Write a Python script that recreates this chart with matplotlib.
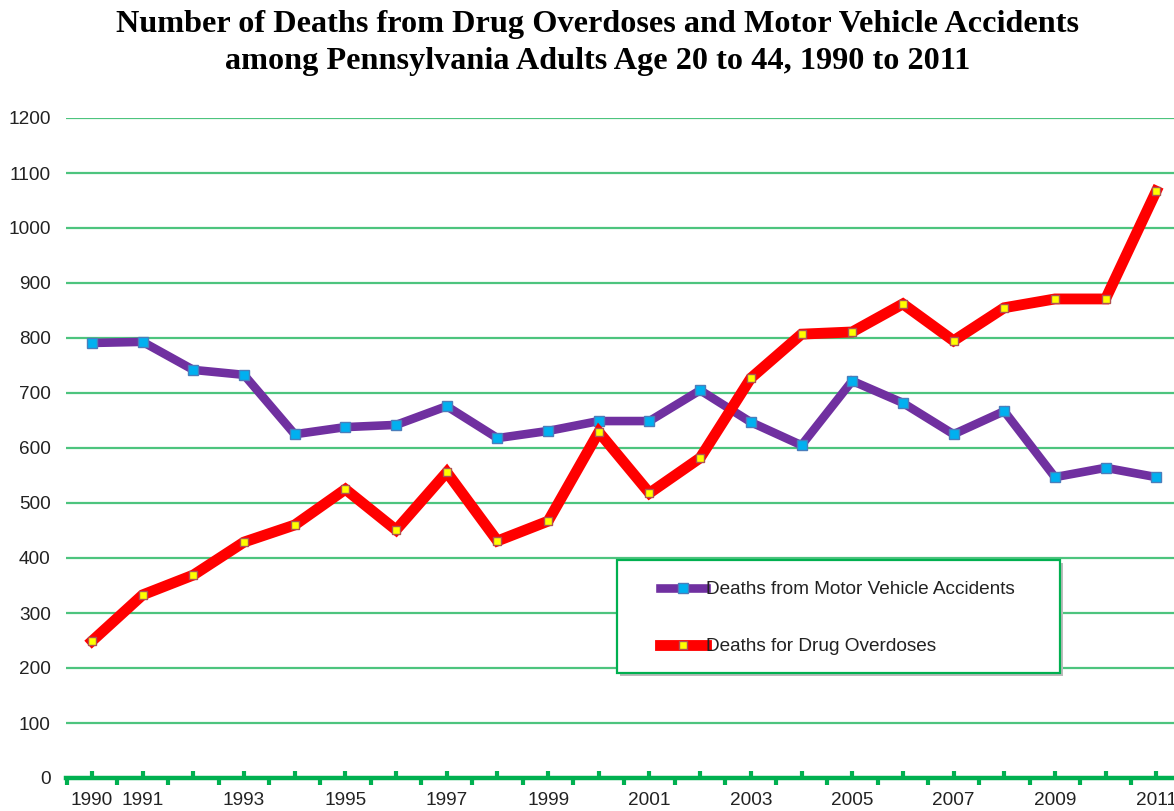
import matplotlib
matplotlib.use("Agg")
import matplotlib.pyplot as plt
from matplotlib.lines import Line2D
from matplotlib.patches import Rectangle

years = list(range(1990, 2012))
motor_vehicle = [791, 793, 742, 733, 625, 638, 642, 676, 618, 631, 649,
                 649, 705, 647, 605, 722, 682, 625, 667, 547, 564, 547]
drug_overdose = [249, 333, 369, 429, 460, 525, 451, 556, 431, 467, 629,
                 518, 582, 727, 807, 811, 862, 795, 855, 871, 871, 1067]
x_labels = ["1990", "1991", "", "1993", "", "1995", "", "1997", "", "1999", "",
            "2001", "", "2003", "", "2005", "", "2007", "", "2009", "", "2011"]
y_ticks = list(range(0, 1300, 100))
title = ("Number of Deaths from Drug Overdoses and Motor Vehicle Accidents\n"
         "among Pennsylvania Adults Age 20 to 44, 1990 to 2011")
label_mv = "Deaths from Motor Vehicle Accidents"
label_do = "Deaths for Drug Overdoses"

W, H = 1174, 811
fig = plt.figure(figsize=(W / 100, H / 100), dpi=100)
fig.patch.set_facecolor("white")
ax = fig.add_axes([66 / W, 1 - 778 / H, (W - 66) / W, (778 - 118) / H])

ax.set_xlim(1989.487, 2011.35)
ax.set_ylim(0, 1200)

green_grid = "#4DC47E"
green_axis = "#00B050"
ax.set_yticks(y_ticks)
ax.set_yticklabels([str(v) for v in y_ticks])
ax.yaxis.grid(True, color=green_grid, linewidth=1.6)
ax.set_axisbelow(True)
for s in ["top", "right", "left"]:
    ax.spines[s].set_visible(False)
ax.spines["bottom"].set_color(green_axis)
ax.spines["bottom"].set_linewidth(3.2)
ax.spines["bottom"].set_zorder(5)

ax.set_xticks(years)
ax.set_xticklabels(x_labels)
ax.set_xticks([y - 0.5 for y in years], minor=True)
ax.tick_params(axis="x", which="major", direction="in", length=5, width=3,
               color=green_axis, pad=10, labelsize=13.7, labelcolor="#222222")
ax.tick_params(axis="x", which="minor", direction="out", length=5, width=3,
               color=green_axis)
ax.tick_params(axis="y", length=0, pad=11, labelsize=13.7, labelcolor="#222222")
for lab in ax.get_xticklabels() + ax.get_yticklabels():
    lab.set_fontfamily("Liberation Sans")

ax.plot(years, motor_vehicle, color="#7030A0", linewidth=6.2, marker="s",
        markersize=7.5, markerfacecolor="#00B0F0", markeredgecolor="#4A7EBB",
        markeredgewidth=1, solid_joinstyle="miter", zorder=3, clip_on=False)
ax.plot(years, drug_overdose, color="#FF0000", linewidth=7.8, marker="s",
        markersize=5.5, markerfacecolor="#FFFF00", markeredgecolor="#B05050",
        markeredgewidth=1, solid_joinstyle="miter", zorder=4, clip_on=False)

# legend box
bx0, by0, bx1, by1 = 617, 560, 1060, 673
fig.patches.append(Rectangle((bx0 / W + 3 / W, 1 - by1 / H - 3 / H),
                             (bx1 - bx0) / W, (by1 - by0) / H,
                             transform=fig.transFigure, facecolor="#BBBBBB",
                             edgecolor="none", zorder=5))
fig.patches.append(Rectangle((bx0 / W, 1 - by1 / H), (bx1 - bx0) / W,
                             (by1 - by0) / H, transform=fig.transFigure,
                             facecolor="white", edgecolor=green_axis,
                             linewidth=1.6, zorder=6))
h1 = Line2D([], [], color="#7030A0", linewidth=6.2, marker="s", markersize=7.5,
            markerfacecolor="#00B0F0", markeredgecolor="#4A7EBB")
h2 = Line2D([], [], color="#FF0000", linewidth=7.8, marker="s", markersize=5.5,
            markerfacecolor="#FFFF00", markeredgecolor="#B05050")
leg = fig.legend([h1, h2], [label_mv, label_do], loc="upper left",
                 bbox_to_anchor=(660 / W, 1 - 581 / H), frameon=False,
                 numpoints=1, handlelength=2.4, handletextpad=0.0,
                 labelspacing=2.08, borderpad=0, borderaxespad=0,
                 prop={"family": "Liberation Sans", "size": 13.7})
leg.set_zorder(7)
for t in leg.get_texts():
    t.set_color("#222222")

fig.text(0.509, 1 - 43 / H, title, ha="center", va="center", fontsize=23.2,
         family="Liberation Serif", weight="bold", linespacing=1.34)

fig.savefig("out.png", dpi=100, facecolor="white")
